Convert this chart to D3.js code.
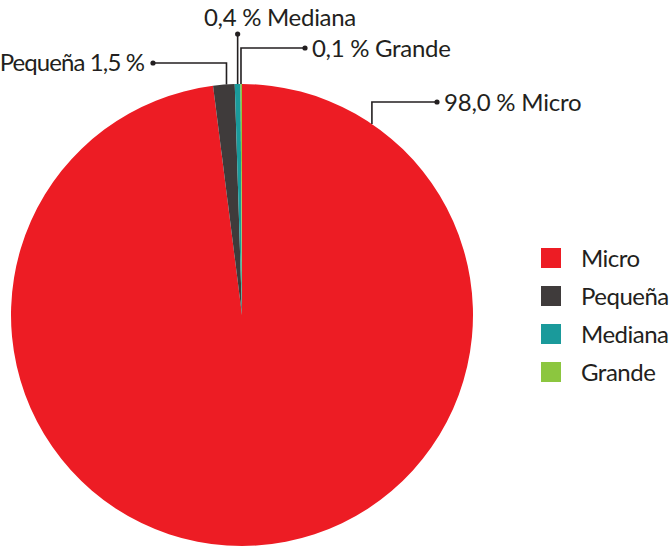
<!DOCTYPE html>
<html>
<head>
<meta charset="utf-8">
<script src="https://cdn.jsdelivr.net/npm/d3@7"></script>
<style>
  body { margin: 0; background: #fff; }
  text { font-family: Lato, "Open Sans", sans-serif; fill: #231f20; }
</style>
</head>
<body>
<div id="chart"></div>
<script>
// data
var categories = ["Micro", "Pequeña", "Mediana", "Grande"];
var shares = [98.0, 1.5, 0.4, 0.1];
var shareLabels = ["98,0 % Micro", "Pequeña 1,5 %", "0,4 % Mediana", "0,1 % Grande"];
var colors = ["#ed1c24", "#3f3b3b", "#1a9a9b", "#8cc63f"];

var width = 670, height = 548;
var cx = 242, cy = 315, radius = 231;

var svg = d3.select("#chart").append("svg")
    .attr("width", width)
    .attr("height", height);

var data = categories.map(function(c, i) { return { name: c, value: shares[i], label: shareLabels[i] }; });

// slices go clockwise from 12 o'clock, keep input order
var pie = d3.pie().value(function(d) { return d.value; }).sort(null);
var arc = d3.arc().innerRadius(0).outerRadius(radius);
var color = d3.scaleOrdinal().domain(categories).range(colors);

var arcs = pie(data);

var g = svg.append("g").attr("transform", "translate(" + cx + "," + cy + ")");

g.selectAll("path.slice")
    .data(arcs)
  .enter().append("path")
    .attr("class", "slice")
    .attr("d", arc)
    .attr("fill", function(d) { return color(d.data.name); });

// point on pie edge at fraction t of a slice
function edgePoint(a, t) {
  var ang = a.startAngle + (a.endAngle - a.startAngle) * t;
  return [cx + radius * Math.sin(ang), cy - radius * Math.cos(ang)];
}

// leader lines: label layout (elbow y, dot x, text position)
var leaders = [
  { t: 0.097, elbowY: 102, dotX: 437, tx: 444, ty: 111, anchor: "start", ls: -0.2 },  // Micro
  { t: 0.62,  elbowY: 63,  dotX: 153, tx: 144, ty: 71,  anchor: "end",   ls: -0.9 },  // Pequeña
  { t: 0.5,   elbowY: 34,  dotX: null, tx: 204, ty: 26, anchor: "start", ls: -0.3 },  // Mediana
  { t: 0.3,   elbowY: 48,  dotX: 305, tx: 312, ty: 57,  anchor: "start", ls: -0.3 }   // Grande
];

arcs.forEach(function(a, i) {
  var L = leaders[i];
  var p = edgePoint(a, L.t);
  var pts;
  if (L.dotX === null) {
    pts = [[p[0], p[1]], [p[0], L.elbowY]];
  } else {
    pts = [[p[0], p[1]], [p[0], L.elbowY], [L.dotX, L.elbowY]];
  }
  svg.append("path")
      .attr("d", d3.line()(pts))
      .attr("fill", "none")
      .attr("stroke", "#231f20")
      .attr("stroke-width", 1.6);
  var end = pts[pts.length - 1];
  svg.append("circle")
      .attr("cx", end[0]).attr("cy", end[1]).attr("r", 2.6)
      .attr("fill", "#231f20");
  svg.append("text")
      .attr("x", L.tx).attr("y", L.ty)
      .attr("text-anchor", L.anchor)
      .style("font-size", "24px")
      .style("letter-spacing", L.ls + "px")
      .text(a.data.label);
});

// legend
var legendY = d3.scalePoint().domain(categories).range([258, 372]);

var legend = svg.append("g").selectAll("g")
    .data(categories)
  .enter().append("g")
    .attr("transform", function(d) { return "translate(541," + legendY(d) + ")"; });

legend.append("rect")
    .attr("x", 0).attr("y", -10)
    .attr("width", 20).attr("height", 20)
    .attr("fill", function(d) { return color(d); });

legend.append("text")
    .attr("x", 40).attr("y", 9)
    .style("font-size", "24px")
    .style("letter-spacing", "-0.5px")
    .text(function(d) { return d; });
</script>
</body>
</html>
